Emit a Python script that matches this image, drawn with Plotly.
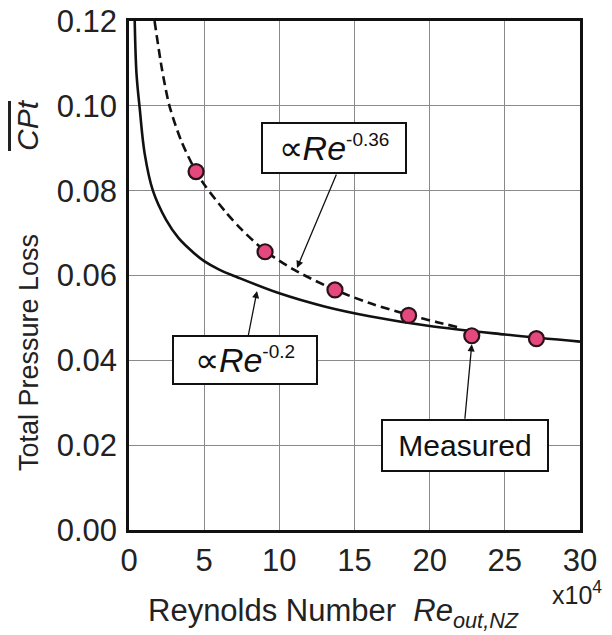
import plotly.graph_objects as go

# Measured data (Re in units of 1e4, total pressure loss coefficient)
re_meas = [4.46, 9.05, 13.7, 18.6, 22.8, 27.1]
cpt_meas = [0.0845, 0.0656, 0.0566, 0.0506, 0.0458, 0.0451]

# Solid curve (proportional to Re^-0.2)
re_fit02 = [0.38, 0.5, 0.71, 1.04, 1.59, 2.47, 3.3, 4.35, 5.0, 6.0, 7.2, 10, 13, 16, 20, 25, 30]
cpt_fit02 = [0.120, 0.1075, 0.0995, 0.0888, 0.0800, 0.0731, 0.0688, 0.0652, 0.0634, 0.0614,
             0.0596, 0.0558, 0.0527, 0.0504, 0.0481, 0.0461, 0.0444]

# Dashed curve (proportional to Re^-0.36)
re_fit036 = [1.7, 2.2, 2.69, 3.5, 4.46, 5.05, 6.47, 7.5, 9.05, 11, 13.7, 16, 18.6, 20.5, 22.0]
cpt_fit036 = [0.120, 0.1085, 0.100, 0.0915, 0.0845, 0.0812, 0.0748, 0.0708, 0.0658, 0.0613,
              0.0566, 0.0535, 0.0507, 0.0490, 0.0477]

x_ticks = [0, 5, 10, 15, 20, 25, 30]
y_ticks = [0.00, 0.02, 0.04, 0.06, 0.08, 0.10, 0.12]

FONT = "Liberation Sans, Arial, sans-serif"

fig = go.Figure()
fig.add_trace(go.Scatter(x=re_fit02, y=cpt_fit02, mode="lines",
                         line=dict(color="#111111", width=2.6, shape="spline", smoothing=1.0),
                         showlegend=False, hoverinfo="skip"))
fig.add_trace(go.Scatter(x=re_fit036, y=cpt_fit036, mode="lines",
                         line=dict(color="#111111", width=2.6, dash="9px,5px", shape="spline", smoothing=0.8),
                         showlegend=False, hoverinfo="skip"))
fig.add_trace(go.Scatter(x=re_meas, y=cpt_meas, mode="markers",
                         marker=dict(size=15, color="#e4487f", line=dict(color="#2a1218", width=2.2)),
                         showlegend=False))

W, H = 612, 635
L, R, T, B = 129, 32, 21, 105
pw, ph = W - L - R, H - T - B

def px(x):
    return (x - L) / pw

def py(y):
    return (H - B - y) / ph

anc = dict(xanchor="center", yanchor="middle", xref="paper", yref="paper")
annos = []
box = dict(bordercolor="#111111", borderwidth=2, bgcolor="white", showarrow=False, **anc)
annos.append(dict(text="∝<i>Re</i><sup><span style='font-size:19px'>-0.36</span></sup>",
                  x=px(334), y=py(148), width=138, height=44, borderpad=2,
                  font=dict(family=FONT, size=34, color="#111111"), **box))
annos.append(dict(text="∝<i>Re</i><sup><span style='font-size:19px'>-0.2</span></sup>",
                  x=px(245), y=py(360), width=138, height=42, borderpad=2,
                  font=dict(family=FONT, size=34, color="#111111"), **box))
annos.append(dict(text="Measured", x=px(465), y=py(445), width=160, height=45, borderpad=2,
                  font=dict(family=FONT, size=30, color="#111111"), **box))

arrow = dict(showarrow=True, arrowhead=2, arrowsize=1.1, arrowwidth=1.3, arrowcolor="#111111",
             text="", xref="paper", yref="paper", axref="pixel", ayref="pixel")
annos.append(dict(x=px(297), y=py(268), ax=337 - 297, ay=173 - 268, **arrow))
annos.append(dict(x=px(257), y=py(291), ax=248 - 257, ay=337 - 291, **arrow))
annos.append(dict(x=re_meas[4], y=cpt_meas[4] - 0.0020, xref="x", yref="y",
                  ax=-7, ay=76, showarrow=True, arrowhead=2, arrowsize=1.1,
                  arrowwidth=1.3, arrowcolor="#111111", text=""))

# Axis titles
annos.append(dict(text="Reynolds Number  <i>Re</i><sub><i>out,NZ</i></sub>", x=px(333), y=py(613),
                  showarrow=False, font=dict(family=FONT, size=31, color="#222222"), **anc))
annos.append(dict(text="x10<sup>4</sup>", x=px(577), y=py(593),
                  showarrow=False, font=dict(family=FONT, size=25, color="#222222"), **anc))
annos.append(dict(text="Total Pressure Loss", x=px(29), y=py(353), textangle=-90,
                  showarrow=False, font=dict(family=FONT, size=27, color="#222222"), **anc))
annos.append(dict(text="<span style='text-decoration:overline'><i>CPt</i></span>", x=px(28), y=py(125),
                  textangle=-90, showarrow=False,
                  font=dict(family=FONT, size=30, color="#222222"), **anc))

fig.update_layout(
    width=W, height=H,
    margin=dict(l=L, r=R, t=T, b=B, autoexpand=False),
    paper_bgcolor="white", plot_bgcolor="white",
    annotations=annos,
    font=dict(family=FONT, color="#222222"),
)
fig.update_xaxes(range=[0, 30], tickvals=x_ticks, ticktext=[str(v) for v in x_ticks],
                 showgrid=True, gridcolor="#8a8a8a", gridwidth=1, zeroline=False,
                 showline=True, linecolor="#111111", linewidth=2.5, mirror=True, automargin=False,
                 ticks="", ticklabelstandoff=1, tickfont=dict(family=FONT, size=31, color="#222222"))
fig.update_yaxes(range=[0, 0.12], tickvals=y_ticks, ticktext=[f"{v:.2f}" for v in y_ticks],
                 showgrid=True, gridcolor="#8a8a8a", gridwidth=1, zeroline=False,
                 showline=True, linecolor="#111111", linewidth=2.5, mirror=True, automargin=False,
                 ticks="", ticklabelstandoff=3, tickfont=dict(family=FONT, size=31, color="#222222"))

fig.write_html("out.html")
